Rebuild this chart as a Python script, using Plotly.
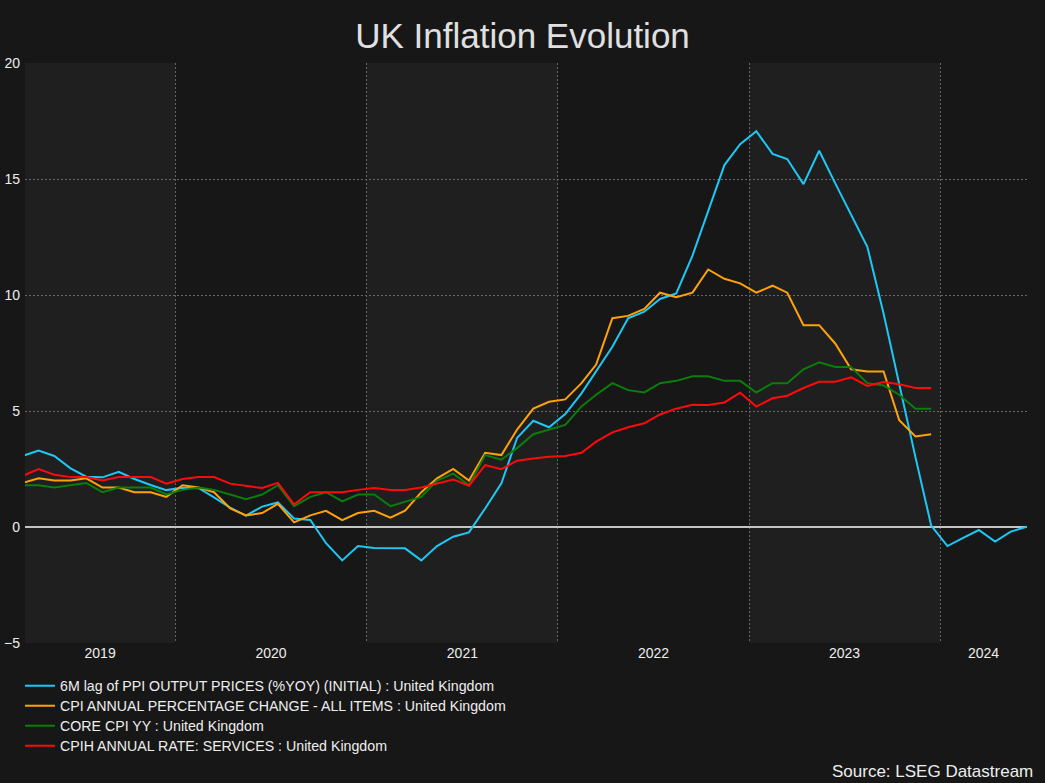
import pandas as pd
import plotly.graph_objects as go

# ---------------- data (monthly, Mar 2019 onwards) ----------------
start_month = "2019-03"
ppi_lag = [3.06, 3.30, 3.06, 2.53, 2.17, 2.14, 2.38, 2.07, 1.81, 1.59,
           1.69, 1.67, 1.28, 0.83, 0.49, 0.88, 1.06, 0.37, 0.30, -0.70, -1.44, -0.82,
           -0.91, -0.92, -0.92, -1.44, -0.82, -0.42, -0.23, 0.80, 1.88, 3.84, 4.58, 4.30,
           4.87, 5.76, 6.69, 7.77, 9.00, 9.28, 9.83, 10.07, 11.70, 13.60, 15.60, 16.50,
           17.06, 16.08, 15.86, 14.78, 16.22, 14.80, 13.45, 12.08, 9.20, 6.10, 3.00, 0.06,
           -0.82, -0.46, -0.13, -0.63, -0.20, 0.01]
cpi = [1.9, 2.1, 2.0, 2.0, 2.1, 1.7, 1.7, 1.5, 1.5, 1.3,
       1.8, 1.7, 1.5, 0.8, 0.5, 0.6, 1.0, 0.2, 0.5, 0.7, 0.3, 0.6,
       0.7, 0.4, 0.7, 1.5, 2.1, 2.5, 2.0, 3.2, 3.1, 4.2, 5.1, 5.4,
       5.5, 6.2, 7.0, 9.0, 9.1, 9.4, 10.1, 9.9, 10.1, 11.1, 10.7, 10.5,
       10.1, 10.4, 10.1, 8.7, 8.7, 7.9, 6.8, 6.7, 6.7, 4.6, 3.9, 4.0]
core_cpi = [1.8, 1.8, 1.7, 1.8, 1.9, 1.5, 1.7, 1.7, 1.7, 1.4,
            1.6, 1.7, 1.6, 1.4, 1.2, 1.4, 1.8, 0.9, 1.3, 1.5, 1.1, 1.4,
            1.4, 0.9, 1.1, 1.3, 2.0, 2.3, 1.8, 3.1, 2.9, 3.4, 4.0, 4.2,
            4.4, 5.2, 5.7, 6.2, 5.9, 5.8, 6.2, 6.3, 6.5, 6.5, 6.3, 6.3,
            5.8, 6.2, 6.2, 6.8, 7.1, 6.9, 6.9, 6.2, 6.1, 5.7, 5.1, 5.1]
cpih_services = [2.20, 2.50, 2.25, 2.15, 2.15, 2.00, 2.15, 2.15, 2.15, 1.87,
                 2.07, 2.15, 2.15, 1.87, 1.78, 1.68, 1.90, 0.98, 1.50, 1.50, 1.50, 1.60,
                 1.68, 1.60, 1.60, 1.70, 1.88, 2.05, 1.78, 2.67, 2.49, 2.86, 2.95, 3.03,
                 3.06, 3.20, 3.68, 4.08, 4.30, 4.47, 4.85, 5.10, 5.27, 5.26, 5.37, 5.79,
                 5.19, 5.55, 5.66, 5.99, 6.26, 6.26, 6.45, 6.08, 6.25, 6.15, 5.99, 5.99]

series_names = ["6M lag of PPI OUTPUT PRICES (%YOY) (INITIAL) : United Kingdom",
                "CPI ANNUAL PERCENTAGE CHANGE - ALL ITEMS : United Kingdom",
                "CORE CPI YY : United Kingdom",
                "CPIH ANNUAL RATE: SERVICES : United Kingdom"]
series_colors = ["#1ec8f5", "#ffa20a", "#0a7d0a", "#ff0a0a"]
years = [2019, 2020, 2021, 2022, 2023, 2024]
y_ticks = [-5, 0, 5, 10, 15, 20]

# ---------------- figure ----------------
dates = pd.date_range(start_month + "-01", periods=len(ppi_lag), freq="MS") + pd.Timedelta(days=14)
x_start = pd.Timestamp("2019-03-20")
x_end = dates[-1]

fig = go.Figure()
legend_ids = ["legend", "legend2", "legend3", "legend4"]
for name, vals, col, lg in zip(series_names, [ppi_lag, cpi, core_cpi, cpih_services],
                               series_colors, legend_ids):
    fig.add_trace(go.Scatter(x=dates[:len(vals)], y=vals, mode="lines", name=name,
                             line=dict(color=col, width=2), legend=lg))

BG = "#171717"
BAND = "#1f1f1f"
GRID = "#666666"
DOTS = "2px,2px"

# alternating year bands + centred year labels
tick_pos, tick_txt = [], []
for i, yr in enumerate(years):
    a = max(pd.Timestamp(f"{yr}-01-01"), x_start)
    b = min(pd.Timestamp(f"{yr + 1}-01-01"), x_end)
    tick_pos.append(a + (b - a) / 2)
    tick_txt.append(str(yr))
    if i % 2 == 0:
        fig.add_shape(type="rect", xref="x", yref="y", x0=a, x1=b, y0=y_ticks[0], y1=y_ticks[-1],
                      fillcolor=BAND, line_width=0, layer="below")

boundaries = [pd.Timestamp(f"{yr}-01-01") for yr in years[1:]]

PLOT_H = 580
legend_style = dict(orientation="v", x=-0.005, xanchor="left", yanchor="middle",
                    bgcolor="rgba(0,0,0,0)", font=dict(size=14.2, color="#eeeeee"),
                    borderwidth=0)
legends = {}
for k, lg in enumerate(legend_ids):
    row_y = 686 + 20 * k  # pixel centre of each legend row
    legends[lg] = dict(legend_style, y=(643 - row_y) / PLOT_H)

fig.update_layout(
    template="none",
    width=1045, height=783,
    paper_bgcolor=BG, plot_bgcolor=BG,
    margin=dict(l=25, r=18, t=63, b=140, autoexpand=False),
    font=dict(family="Liberation Sans, Arial, sans-serif", color="#eeeeee", size=14),
    title=dict(text="UK Inflation Evolution", x=0.5, xanchor="center", y=1 - 36 / 783,
               yanchor="middle", font=dict(size=35, color="#e0e0e0")),
    showlegend=True,
    xaxis=dict(type="date", range=[x_start, x_end], tickmode="array", tickvals=tick_pos,
               ticktext=tick_txt, showgrid=False, zeroline=False, showline=False, ticks="",
               automargin=False, tickfont=dict(size=14, color="#eeeeee"),
               minor=dict(tickmode="array", tickvals=boundaries, showgrid=True,
                          gridcolor=GRID, griddash=DOTS, gridwidth=1, ticks="")),
    yaxis=dict(range=[y_ticks[0], y_ticks[-1]], tickmode="array", tickvals=y_ticks,
               showgrid=True, gridcolor=GRID, griddash=DOTS, gridwidth=1,
               zeroline=True, zerolinecolor="#c4c4c4", zerolinewidth=1.5,
               showline=False, ticks="", automargin=False, ticklabelstandoff=4,
               tickfont=dict(size=14, color="#eeeeee")),
    annotations=[dict(text="Source: LSEG Datastream", xref="paper", yref="paper",
                      x=1.008, y=(643 - 771) / PLOT_H, xanchor="right", yanchor="middle",
                      showarrow=False, font=dict(size=17, color="#eeeeee"))],
    **legends,
)

fig.write_html("out.html", config={"displayModeBar": False})

# remove the browser's default page margin so the figure sits at the top-left corner
with open("out.html", "r", encoding="utf-8") as f:
    html = f.read()
html = html.replace("<head>", "<head><style>html,body{margin:0;padding:0;background:#171717;}</style>", 1)
with open("out.html", "w", encoding="utf-8") as f:
    f.write(html)
